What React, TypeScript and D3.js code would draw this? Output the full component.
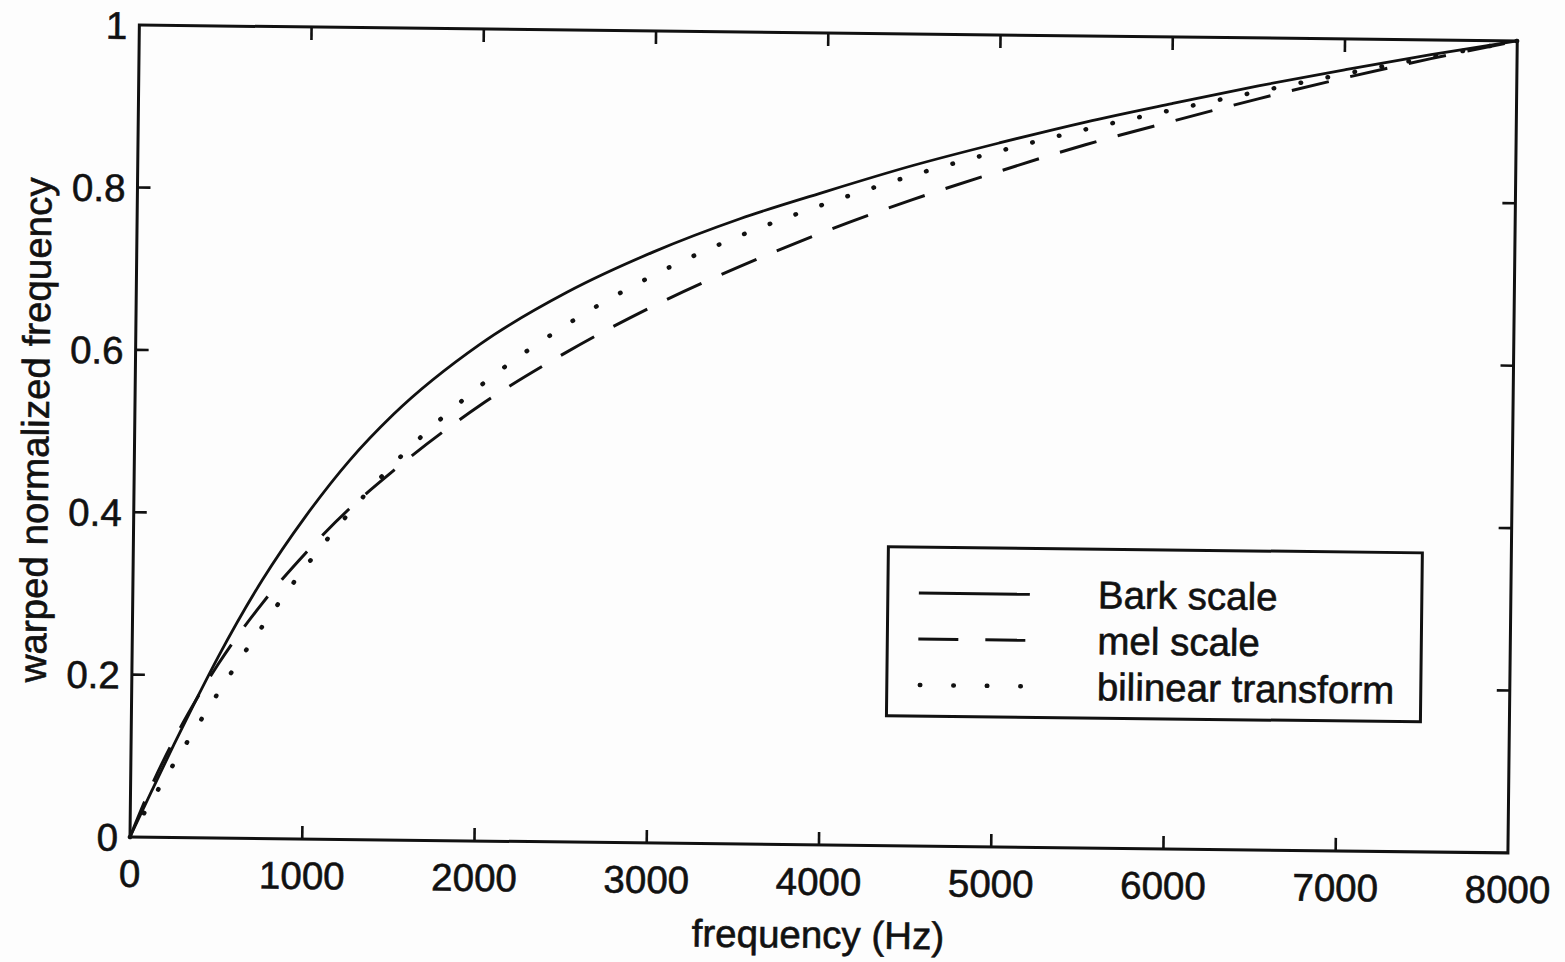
import * as d3 from "d3";
import {useEffect, useRef} from "react";

// values (normalized to 1 at 8 kHz)
const freqs = [0, 125, 250, 375, 500, 750, 1000, 1250, 1500, 2000, 2500, 3000, 3500, 4000, 4500, 5000, 5500, 6000, 6500, 7000, 7500, 8000];
const barkScale = [0, 0.058, 0.115, 0.170, 0.223, 0.318, 0.398, 0.467, 0.524, 0.612, 0.677, 0.728, 0.770, 0.805, 0.838, 0.867, 0.894, 0.918, 0.941, 0.962, 0.982, 1];
const melScale = [0, 0.065, 0.121, 0.170, 0.214, 0.289, 0.352, 0.407, 0.454, 0.536, 0.603, 0.661, 0.711, 0.756, 0.796, 0.832, 0.866, 0.896, 0.925, 0.952, 0.977, 1];
const bilinear = [0, 0.046, 0.091, 0.135, 0.178, 0.260, 0.335, 0.402, 0.462, 0.560, 0.637, 0.699, 0.749, 0.790, 0.826, 0.857, 0.885, 0.910, 0.934, 0.957, 0.979, 1];

const xTicks = [0, 1000, 2000, 3000, 4000, 5000, 6000, 7000, 8000];
const yTicks = [0, 0.2, 0.4, 0.6, 0.8, 1];
const yTickLabels = ["0", "0.2", "0.4", "0.6", "0.8", "1"];
const legendLabels = ["Bark scale", "mel scale", "bilinear transform"];

const W = 1565, H = 962;
const left = 130, right = 1508, top = 25, bottom = 837;
const FONT = "'Liberation Sans', Arial, Helvetica, sans-serif";
const FS = 38.5;

function App() {
    const svgRef = useRef<SVGSVGElement>(null);

    useEffect(() => {
        const svg = d3.select(svgRef.current);
        svg.selectAll("*").remove();

        svg.append("rect").attr("width", W).attr("height", H).attr("fill", "#fdfdfd");

        // the scan is slightly rotated, so rotate the whole figure with it
        const g = svg.append("g")
            .attr("transform", `rotate(0.66, ${left}, ${bottom})`);

        const x = d3.scaleLinear().domain([0, 8000]).range([left, right]);
        const y = d3.scaleLinear().domain([0, 1]).range([bottom, top]);

        const tick = 13;
        const ink = "#111";

        const txt = (sel: any) => sel
            .attr("font-family", FONT)
            .attr("font-size", FS)
            .attr("fill", ink)
            .attr("stroke", ink)
            .attr("stroke-width", 0.6);

        // ticks on all four sides, pointing inward
        xTicks.slice(1, -1).forEach(t => {
            g.append("line").attr("x1", x(t)).attr("x2", x(t))
                .attr("y1", bottom).attr("y2", bottom - tick)
                .attr("stroke", ink).attr("stroke-width", 2.6);
            g.append("line").attr("x1", x(t)).attr("x2", x(t))
                .attr("y1", top).attr("y2", top + tick)
                .attr("stroke", ink).attr("stroke-width", 2.6);
        });
        yTicks.slice(1, -1).forEach(t => {
            g.append("line").attr("x1", left).attr("x2", left + tick)
                .attr("y1", y(t)).attr("y2", y(t))
                .attr("stroke", ink).attr("stroke-width", 2.6);
            g.append("line").attr("x1", right).attr("x2", right - tick)
                .attr("y1", y(t)).attr("y2", y(t))
                .attr("stroke", ink).attr("stroke-width", 2.6);
        });

        g.selectAll(".xlab")
            .data(xTicks)
            .enter()
            .append("text")
            .attr("x", d => x(d))
            .attr("y", bottom + 50)
            .attr("text-anchor", "middle")
            .call(txt)
            .text(d => String(d));

        g.selectAll(".ylab")
            .data(yTicks)
            .enter()
            .append("text")
            .attr("x", left - 12)
            .attr("y", d => y(d) + 14)
            .attr("text-anchor", "end")
            .call(txt)
            .text((d, i) => yTickLabels[i]);

        g.append("text")
            .attr("x", (left + right) / 2)
            .attr("y", 940)
            .attr("text-anchor", "middle")
            .call(txt)
            .text("frequency (Hz)");

        g.append("text")
            .attr("transform", `translate(44, ${(top + bottom) / 2}) rotate(-90)`)
            .attr("text-anchor", "middle")
            .call(txt)
            .text("warped normalized frequency");

        const line = d3.line<number>()
            .x((d, i) => x(freqs[i]))
            .y(d => y(d))
            .curve(d3.curveMonotoneX);

        const styles = [
            {data: barkScale, dash: null, width: 2.8, cap: "butt"},
            {data: melScale, dash: "38 22", width: 3, cap: "butt"},
            {data: bilinear, dash: "0.5 27", width: 4.5, cap: "round"},
        ];

        styles.forEach(s => {
            g.append("path")
                .attr("d", line(s.data))
                .attr("fill", "none")
                .attr("stroke", ink)
                .attr("stroke-width", s.width)
                .attr("stroke-linecap", s.cap)
                .attr("stroke-dasharray", s.dash);
        });

        // axes box
        g.append("rect")
            .attr("x", left).attr("y", top)
            .attr("width", right - left).attr("height", bottom - top)
            .attr("fill", "none")
            .attr("stroke", ink)
            .attr("stroke-width", 3);

        // legend
        const lg = g.append("g");
        lg.append("rect")
            .attr("x", 885).attr("y", 538)
            .attr("width", 534).attr("height", 169)
            .attr("fill", "#fdfdfd")
            .attr("stroke", ink)
            .attr("stroke-width", 3);

        const legendDash = [null, "40 27", "0.5 33"];
        legendLabels.forEach((label, i) => {
            const ly = 584 + i * 46;
            lg.append("line")
                .attr("x1", i === 2 ? 918 : 916).attr("x2", 1027)
                .attr("y1", ly).attr("y2", ly)
                .attr("stroke", ink)
                .attr("stroke-width", i === 2 ? 4.5 : 3)
                .attr("stroke-linecap", i === 2 ? "round" : "butt")
                .attr("stroke-dasharray", legendDash[i]);
            lg.append("text")
                .attr("x", 1095)
                .attr("y", ly + 13)
                .call(txt)
                .text(label);
        });
    }, []);

    return (
        <svg
            ref={svgRef}
            width={W}
            height={H}
            style={{position: "absolute", left: 0, top: 0, display: "block"}}
        />
    );
}

export default App;
